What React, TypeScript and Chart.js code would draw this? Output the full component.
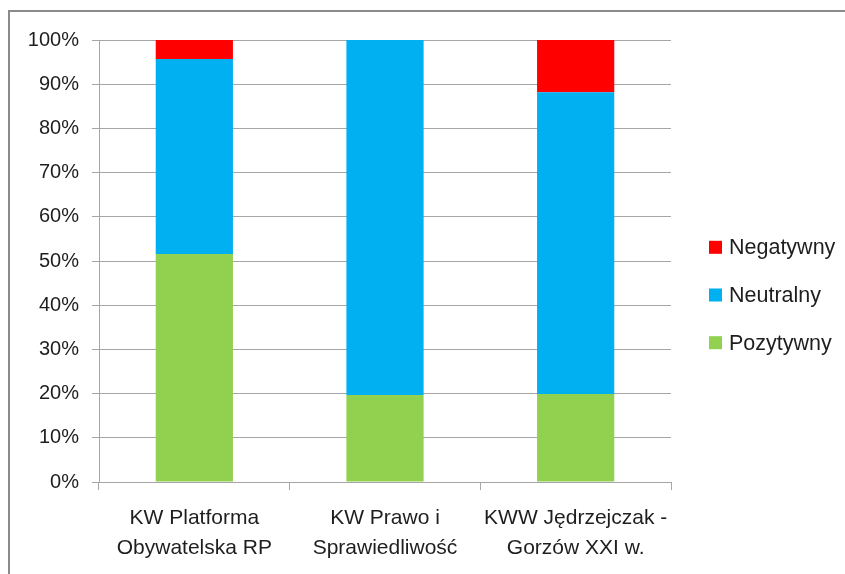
import React, { useEffect, useRef } from "react";
import { Chart, registerables } from "chart.js";

Chart.register(...registerables);

const categories: string[][] = [
  ["KW Platforma", "Obywatelska RP"],
  ["KW Prawo i", "Sprawiedliwość"],
  ["KWW Jędrzejczak -", "Gorzów XXI w."],
];
const pozytywny = [51.6, 19.7, 19.9];
const neutralny = [44.1, 80.3, 68.3];
const negatywny = [4.3, 0, 11.8];
const seriesNames = ["Pozytywny", "Neutralny", "Negatywny"];
const seriesColors = ["#92D050", "#00B0F0", "#FF0000"];
const yTickValues = [0, 10, 20, 30, 40, 50, 60, 70, 80, 90, 100];

const FONT = "'Liberation Sans', Arial, sans-serif";
const TEXT = "#1e1e1e";
const GRID = "#a6a6a6";

const legendPlugin = {
  id: "sideLegend",
  afterDraw(chart: any) {
    const ctx = chart.ctx;
    const area = chart.chartArea;
    const ds = chart.data.datasets;
    const order = [2, 1, 0];
    const spacing = 47.7;
    const midY = 283;
    ctx.save();
    ctx.font = `21.5px ${FONT}`;
    ctx.textBaseline = "middle";
    ctx.textAlign = "left";
    order.forEach((idx, i) => {
      const y = midY + (i - 1) * spacing;
      const bx = area.right + 38;
      ctx.fillStyle = ds[idx].backgroundColor;
      ctx.fillRect(bx, y - 6.5, 13, 13);
      ctx.fillStyle = TEXT;
      ctx.fillText(ds[idx].label, bx + 20, y + 1);
    });
    ctx.restore();
  },
};

export default function App() {
  const ref = useRef<HTMLCanvasElement | null>(null);
  useEffect(() => {
    document.body.style.overflow = "hidden";
    if (!ref.current) return;
    const values = [pozytywny, neutralny, negatywny];
    const chart = new Chart(ref.current, {
      type: "bar",
      data: {
        labels: categories,
        datasets: seriesNames.map((name, i) => ({
          label: name,
          data: values[i],
          backgroundColor: seriesColors[i],
          borderWidth: 0,
          barPercentage: 0.405,
          categoryPercentage: 1,
        })),
      },
      options: {
        animation: false,
        responsive: false,
        devicePixelRatio: 1,
        layout: { padding: { left: 0, top: 28, right: 174, bottom: 0 } },
        plugins: {
          legend: { display: false },
          tooltip: { enabled: false },
        },
        scales: {
          x: {
            stacked: true,
            offset: true,
            grid: {
              offset: true,
              drawOnChartArea: false,
              drawTicks: true,
              tickLength: 8,
              color: GRID,
            },
            border: { display: true, color: GRID, width: 1 },
            ticks: {
              color: TEXT,
              font: { family: FONT, size: 21, lineHeight: 1.43 },
              padding: 13,
              maxRotation: 0,
              autoSkip: false,
            },
            afterFit(scale: any) {
              scale.height = 92;
            },
          },
          y: {
            stacked: true,
            min: 0,
            max: 100,
            grid: { color: GRID, tickLength: 7, drawTicks: true },
            border: { display: true, color: GRID, width: 1 },
            afterBuildTicks(scale: any) {
              scale.ticks = yTickValues.map((v) => ({ value: v }));
            },
            ticks: {
              color: TEXT,
              font: { family: FONT, size: 20 },
              padding: 13,
              callback: (v: any) => `${v}%`,
            },
            afterFit(scale: any) {
              scale.width = 89;
            },
          },
        },
      },
      plugins: [legendPlugin],
    });
    return () => chart.destroy();
  }, []);
  return (
    <div
      style={{
        position: "absolute",
        left: 8,
        top: 10,
        borderTop: "2px solid #8a8a8a",
        borderLeft: "2px solid #8a8a8a",
        width: 835,
        height: 562,
        background: "#fff",
      }}
    >
      <canvas ref={ref} width={835} height={562} style={{ display: "block" }} />
    </div>
  );
}
